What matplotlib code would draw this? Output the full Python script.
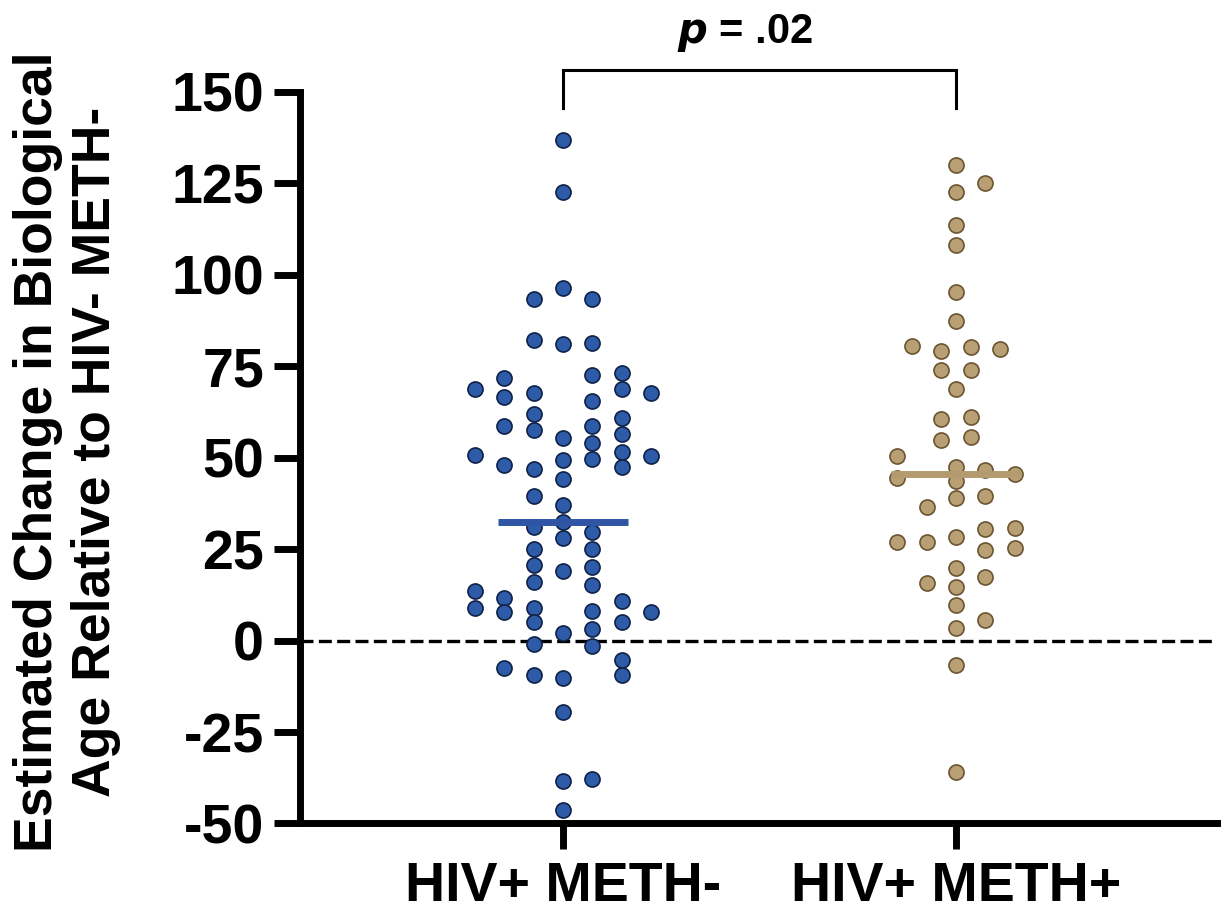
import matplotlib
matplotlib.use("Agg")
import matplotlib.pyplot as plt
import numpy as np

plt.rcParams['font.family'] = ['Liberation Sans', 'DejaVu Sans']
plt.rcParams['axes.unicode_minus'] = False

# groups / labels
groups = ["HIV+ METH-", "HIV+ METH+"]
p_text = r"$\bfit{p}$ = .02"

# HIV+ METH- values and their swarm column (half-steps)
g1_vals = [137.0, 122.6, 96.4, 93.3, 93.3, 82.1, 81.0, 81.4, 71.9, 68.8,
           66.6, 67.6, 72.6, 73.1, 68.8, 67.8, 65.5, 61.9, 57.6, 58.7,
           58.8, 60.9, 56.6, 55.4, 53.9, 51.7, 50.8, 50.6, 49.7, 49.5,
           47.5, 48.0, 46.8, 44.3, 39.4, 37.2, 32.4, 31.0, 29.8, 28.0,
           25.1, 25.1, 20.8, 20.2, 19.1, 16.1, 15.3, 13.6, 11.7, 10.7,
           9.0, 7.7, 8.8, 8.1, 7.9, 5.0, 5.2, 3.2, 2.0, -0.9,
           -1.6, -5.2, -7.6, -9.4, -9.4, -10.2, -19.6, -38.5, -37.9, -46.4]
g1_col = [0, 0, 0, -2, 2, -2, 0, 2, -4, -6,
          -4, -2, 2, 4, 4, 6, 2, -2, -2, -4,
          2, 4, 4, 0, 2, 4, -6, 6, 2, 0,
          4, -4, -2, 0, -2, 0, 0, -2, 2, 0,
          -2, 2, -2, 2, 0, -2, 2, -6, -4, 4,
          -6, -4, -2, 2, 6, -2, 4, 2, 0, -2,
          2, 4, -4, -2, 4, 0, 0, 0, 2, 0]

# HIV+ METH+
g2_vals = [129.9, 125.0, 122.6, 113.7, 108.2, 95.3, 87.3, 80.5, 79.2, 80.3,
           79.8, 73.9, 73.9, 68.9, 60.7, 61.0, 54.8, 55.7, 50.6, 44.5,
           47.5, 46.7, 45.6, 43.5, 38.9, 39.5, 36.4, 30.4, 30.9, 28.2,
           26.9, 27.0, 24.9, 25.2, 19.9, 17.5, 15.7, 14.6, 9.6, 5.6,
           3.5, -6.6, -35.9]
g2_col = [0, 2, 0, 0, 0, 0, 0, -3, -1, 1,
          3, -1, 1, 0, -1, 1, -1, 1, -4, -4,
          0, 2, 4, 0, 0, 2, -2, 2, 4, 0,
          -4, -2, 2, 4, 0, 2, -2, 0, 0, 2,
          0, 0, 0]

medians = [32.3, 45.6]

fill_colors = ["#2E5BA8", "#B8A074"]
edge_colors = ["#0F2147", "#6B5431"]
line_colors = ["#2F55A4", "#B39B6F"]

fig = plt.figure(figsize=(12.25, 9.16), dpi=100)
ax = fig.add_axes([0.2449, 0.1010, 0.7486, 0.7986])

step = 0.0374
for i, (vals, cols) in enumerate([(g1_vals, g1_col), (g2_vals, g2_col)]):
    xpos = (i + 1) + np.array(cols) * step
    ax.scatter(xpos, vals, s=118, color=fill_colors[i], edgecolor=edge_colors[i],
               linewidth=1.2, zorder=3)
    ax.plot([i + 1 - 0.165, i + 1 + 0.165], [medians[i], medians[i]],
            color=line_colors[i], linewidth=5, solid_capstyle='butt', zorder=4)

# zero reference
ax.axhline(0, color='black', linestyle=(0, (3.9, 1.6)), linewidth=2.4, zorder=1)

ax.set_xlim(0.331, 2.664)
ax.set_ylim(-50, 150)
ax.set_yticks([-50, -25, 0, 25, 50, 75, 100, 125, 150])
ax.set_xticks([1, 2])
ax.set_xticklabels(groups)

for s in ['top', 'right']:
    ax.spines[s].set_visible(False)
for s in ['left', 'bottom']:
    ax.spines[s].set_linewidth(5)
    ax.spines[s].set_capstyle('projecting')
ax.tick_params(axis='both', width=5, length=19, labelsize=40)
ax.tick_params(axis='y', pad=7)
ax.tick_params(axis='x', pad=8)
for lab in ax.get_xticklabels() + ax.get_yticklabels():
    lab.set_fontweight('bold')

# significance bracket
ax.plot([1, 1, 2, 2], [145.5, 156, 156, 145.5], color='black', linewidth=2.2,
        clip_on=False, solid_joinstyle='miter')
ax.text(1.463, 163.5, p_text, ha='center', va='baseline', fontsize=30,
        fontweight='bold')

fig.text(0.055, 0.507, "Estimated Change in Biological\nAge Relative to HIV- METH-",
         rotation=90, ha='center', va='center', fontsize=38.5, fontweight='bold',
         linespacing=1.2)

fig.savefig("out.png", dpi=100)
